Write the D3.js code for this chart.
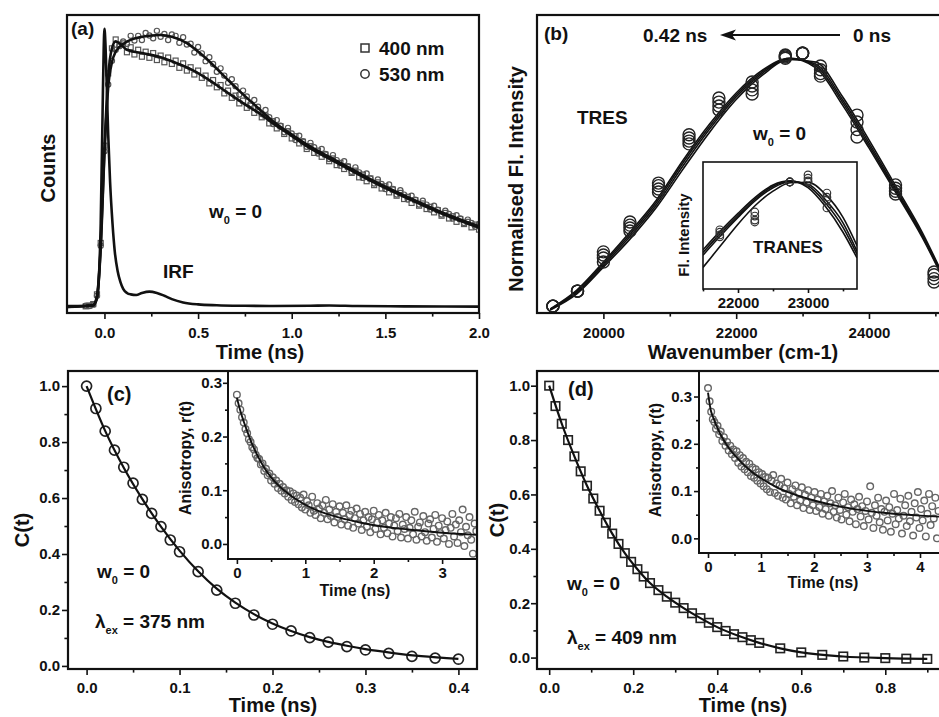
<!DOCTYPE html>
<html>
<head>
<meta charset="utf-8">
<script src="https://cdn.jsdelivr.net/npm/d3@7"></script>
<style>
body{margin:0;background:#fff}
svg text{font-family:"Liberation Sans",Arial,sans-serif;font-weight:bold;fill:#111;white-space:pre}
.axis line{stroke:#111;stroke-width:1.6}
</style>
</head>
<body>
<svg id="fig" width="939" height="717"></svg>
<script>
// ---- (a) decays, channel width 0.02 ns starting at -0.1 ns ----
var aStart = -0.1, aStep = 0.02
var a530 = [0.004,0.003,0.008,0.04,0.22,0.56,0.8,0.885,0.925,0.938,
 0.955,0.946,0.975,0.958,0.975,0.960,0.985,0.976,0.966,0.993,0.972,0.982,0.960,0.980,0.975,0.950,
 0.970,0.944,0.947,0.915,0.935,0.912,0.884,0.898,0.874,0.846,0.858,0.832,0.806,0.819,0.794,0.764,
 0.778,0.757,0.730,0.744,0.720,0.694,0.708,0.682,0.658,0.672,0.652,0.628,0.644,0.624,0.600,0.616,
 0.596,0.576,0.590,0.574,0.552,0.568,0.550,0.532,0.546,0.528,0.508,0.524,0.506,0.486,0.502,0.484,
 0.464,0.480,0.462,0.444,0.458,0.442,0.424,0.440,0.424,0.404,0.420,0.404,0.386,0.400,0.386,0.368,
 0.382,0.368,0.350,0.364,0.350,0.332,0.346,0.334,0.318,0.330,0.318,0.302,0.314,0.302,0.288,0.298]
var a400 = [0.002,0.005,0.01,0.045,0.23,0.58,0.84,0.93,0.962,0.944,
 0.948,0.916,0.934,0.908,0.925,0.900,0.918,0.896,0.913,0.888,0.904,0.880,0.897,0.874,0.886,0.860,
 0.876,0.850,0.862,0.836,0.850,0.824,0.832,0.804,0.816,0.790,0.798,0.768,0.778,0.752,0.760,0.732,
 0.742,0.716,0.724,0.698,0.708,0.682,0.688,0.660,0.668,0.642,0.650,0.622,0.632,0.606,0.614,0.588,
 0.594,0.568,0.578,0.554,0.562,0.540,0.548,0.524,0.534,0.510,0.518,0.496,0.504,0.482,0.490,0.466,
 0.476,0.452,0.462,0.438,0.448,0.426,0.434,0.412,0.422,0.400,0.410,0.388,0.396,0.374,0.384,0.364,
 0.372,0.352,0.360,0.340,0.348,0.328,0.338,0.318,0.326,0.306,0.316,0.298,0.306,0.286,0.296,0.278]
var fit530T = [-0.2,-0.06,-0.04,-0.02,0,0.02,0.04,0.06,0.08,0.12,0.2,0.3,0.36,0.44,0.51,0.58,0.65,0.72,0.8,0.9,1.0,1.08,1.26,1.43,1.62,1.8,2.0]
var fit530V = [0.0,0.005,0.035,0.21,0.55,0.79,0.88,0.918,0.935,0.954,0.972,0.978,0.972,0.949,0.913,0.87,0.823,0.777,0.728,0.668,0.62,0.585,0.518,0.456,0.395,0.341,0.29]
var fit400T = [-0.2,-0.06,-0.04,-0.02,0,0.02,0.04,0.06,0.08,0.12,0.2,0.3,0.38,0.47,0.56,0.65,0.74,0.83,0.9,1.0,1.08,1.26,1.43,1.62,1.8,2.0]
var fit400V = [0.0,0.006,0.04,0.22,0.57,0.83,0.93,0.955,0.948,0.925,0.913,0.898,0.878,0.852,0.816,0.774,0.733,0.695,0.66,0.615,0.578,0.512,0.451,0.39,0.336,0.285]
var irfT = [-0.2,-0.1,-0.06,-0.04,-0.03,-0.02,-0.01,-0.004,0,0.005,0.012,0.02,0.03,0.043,0.055,0.07,0.085,0.1,0.12,0.14,0.17,0.2,0.24,0.28,0.32,0.36,0.42,0.5,0.6,0.75,0.9,1.1,1.2,1.35,1.6,2.0]
var irfV = [0.003,0.004,0.008,0.03,0.1,0.3,0.7,0.93,1.0,0.95,0.8,0.62,0.45,0.3,0.2,0.13,0.09,0.065,0.05,0.045,0.043,0.05,0.055,0.05,0.04,0.028,0.016,0.009,0.006,0.004,0.003,0.004,0.005,0.003,0.002,0.001]
var aTicks = [0, 0.5, 1.0, 1.5, 2.0], aMinor = [0.25, 0.75, 1.25, 1.75]

// ---- (b) TRES, four time slices 0 / 0.14 / 0.28 / 0.42 ns ----
var tresWn = [19240,19610,20000,20400,20830,21290,21740,22240,22740,23000,23270,23820,24400,24980]
var tres0  = [0.027,0.086,0.200,0.322,0.475,0.664,0.797,0.860,1.000,1.020,0.970,0.777,0.503,0.161]
var tres14 = [0.027,0.086,0.216,0.334,0.487,0.675,0.813,0.876,1.005,1.020,0.955,0.750,0.490,0.150]
var tres28 = [0.027,0.086,0.228,0.345,0.500,0.687,0.828,0.891,1.010,1.020,0.940,0.720,0.478,0.135]
var tres42 = [0.027,0.086,0.240,0.357,0.510,0.700,0.844,0.907,1.013,1.020,0.930,0.691,0.467,0.122]
var tresFitWn = [19200,19600,20000,20400,20800,21200,21600,22000,22400,22800,23200,23600,24000,24400,24800,25200]
var tresFit0  = [0.012,0.075,0.180,0.290,0.415,0.565,0.710,0.838,0.935,0.995,0.985,0.850,0.680,0.500,0.318,0.100]
var tresFit14 = [0.014,0.080,0.187,0.300,0.425,0.578,0.722,0.848,0.942,0.998,0.977,0.838,0.668,0.490,0.310,0.096]
var tresFit28 = [0.015,0.085,0.194,0.309,0.435,0.590,0.732,0.856,0.948,1.000,0.970,0.828,0.658,0.483,0.304,0.093]
var tresFit42 = [0.016,0.090,0.200,0.318,0.444,0.600,0.742,0.864,0.954,1.000,0.962,0.817,0.648,0.475,0.298,0.090]
var bTicks = [20000, 22000, 24000], bMinor = [21000, 23000, 25000]

// TRANES inset
var tranesWn = [21740,22240,22740,23000,23270]
var tranes0  = [0.793,0.848,0.996,1.022,0.955]
var tranes14 = [0.800,0.855,0.996,1.010,0.940]
var tranes28 = [0.810,0.870,0.996,1.000,0.930]
var tranes42 = [0.819,0.885,0.996,0.996,0.900]
var tranesFitWn = [21500,21750,22000,22250,22500,22750,23000,23250,23500,23700]
var tranesFit0  = [0.680,0.760,0.840,0.910,0.962,0.993,0.995,0.950,0.865,0.760]
var tranesFit14 = [0.725,0.797,0.865,0.928,0.975,0.997,0.988,0.930,0.845,0.740]
var tranesFit28 = [0.735,0.806,0.872,0.934,0.980,0.999,0.982,0.918,0.828,0.728]
var tranesFit42 = [0.745,0.815,0.880,0.940,0.985,1.000,0.975,0.905,0.810,0.715]

// ---- (c) C(t), 375 nm ----
var cT = [0,0.01,0.02,0.03,0.04,0.05,0.06,0.07,0.08,0.09,0.10,0.12,0.14,0.16,0.18,0.20,0.22,0.24,0.26,0.28,0.30,0.325,0.35,0.375,0.40]
var cV = [1.0,0.92,0.839,0.771,0.71,0.653,0.595,0.545,0.498,0.45,0.408,0.337,0.271,0.224,0.182,0.149,0.125,0.101,0.085,0.069,0.057,0.045,0.034,0.028,0.024]
var cFitT = [0,0.02,0.04,0.06,0.08,0.1,0.12,0.14,0.16,0.18,0.2,0.22,0.24,0.26,0.28,0.3,0.33,0.36,0.4]
var cFitV = [1.0,0.84,0.708,0.596,0.498,0.412,0.338,0.276,0.226,0.185,0.152,0.125,0.103,0.086,0.072,0.06,0.046,0.035,0.025]
// anisotropy inset (c), channel width 0.025 ns
var aniCStep = 0.025
var aniC = [0.278,0.262,0.250,0.236,0.226,0.214,0.206,0.195,0.190,0.180,0.176,0.166,0.160,0.158,0.148,0.150,0.136,0.140,0.128,0.131,
 0.118,0.124,0.112,0.118,0.104,0.112,0.099,0.106,0.094,0.100,0.088,0.098,0.082,0.094,0.078,0.090,0.074,0.086,0.068,0.092,
 0.064,0.080,0.072,0.058,0.088,0.062,0.054,0.076,0.066,0.048,0.072,0.058,0.082,0.046,0.064,0.052,0.074,0.040,0.060,0.050,
 0.070,0.036,0.058,0.046,0.072,0.034,0.054,0.062,0.030,0.048,0.066,0.038,0.056,0.026,0.044,0.060,0.032,0.050,0.022,0.046,
 0.062,0.028,0.040,0.054,0.018,0.044,0.030,0.058,0.020,0.038,0.050,0.014,0.034,0.048,0.024,0.056,0.012,0.036,0.028,0.050,
 0.010,0.030,0.044,0.018,0.060,0.008,0.032,0.040,0.014,0.052,0.022,0.006,0.038,0.046,0.012,0.028,0.054,0.004,0.034,0.020,
 0.048,0.010,0.026,0.042,0.000,0.030,0.056,0.014,0.036,0.002,0.044,0.022,0.064,-0.004,0.032,0.016,0.050,0.008,-0.018,0.038,0.024]
var aniCFitT = [0,0.05,0.1,0.15,0.2,0.3,0.4,0.5,0.6,0.8,1.0,1.2,1.5,1.8,2.1,2.5,3.0,3.5]
var aniCFitV = [0.272,0.248,0.228,0.210,0.193,0.165,0.142,0.124,0.110,0.089,0.073,0.061,0.049,0.040,0.033,0.027,0.021,0.017]

// ---- (d) C(t), 409 nm ----
var dT = [0,0.015,0.03,0.045,0.06,0.075,0.09,0.105,0.12,0.135,0.15,0.165,0.18,0.195,0.21,0.225,0.24,0.26,0.28,0.30,0.32,0.34,0.36,0.38,0.40,0.42,0.44,0.46,0.48,0.50,0.55,0.60,0.65,0.70,0.75,0.80,0.85,0.90]
var dV = [1.0,0.925,0.86,0.8,0.74,0.685,0.632,0.585,0.54,0.496,0.456,0.418,0.384,0.352,0.325,0.298,0.274,0.248,0.224,0.202,0.182,0.163,0.145,0.128,0.112,0.098,0.086,0.075,0.064,0.054,0.034,0.019,0.01,0.004,0.0,-0.002,-0.004,-0.005]
var dFitT = [0,0.03,0.06,0.09,0.12,0.15,0.18,0.21,0.24,0.28,0.32,0.36,0.4,0.45,0.5,0.55,0.6,0.7,0.8,0.9]
var dFitV = [1.0,0.86,0.74,0.632,0.54,0.456,0.384,0.325,0.274,0.224,0.182,0.145,0.112,0.08,0.054,0.034,0.019,0.004,-0.002,-0.005]
// anisotropy inset (d), channel width 0.03 ns
var aniDStep = 0.03
var aniD = [0.318,0.290,0.268,0.252,0.246,0.232,0.238,0.220,0.226,0.206,0.214,0.196,0.204,0.186,0.196,0.178,0.188,0.170,0.184,0.160,
 0.176,0.152,0.170,0.146,0.162,0.140,0.158,0.132,0.150,0.128,0.146,0.122,0.140,0.116,0.136,0.110,0.130,0.104,0.128,0.098,
 0.122,0.134,0.096,0.116,0.090,0.112,0.126,0.086,0.106,0.082,0.118,0.094,0.074,0.104,0.088,0.112,0.070,0.096,0.080,0.108,
 0.064,0.092,0.076,0.102,0.060,0.086,0.070,0.098,0.058,0.082,0.066,0.094,0.052,0.078,0.062,0.090,0.048,0.074,0.100,0.056,
 0.070,0.044,0.086,0.060,0.040,0.076,0.094,0.050,0.066,0.036,0.082,0.056,0.072,0.030,0.062,0.088,0.046,0.068,0.026,0.058,
 0.078,0.040,0.110,0.054,0.022,0.070,0.048,0.086,0.034,0.062,0.018,0.056,0.080,0.038,0.066,0.014,0.052,0.094,0.030,0.060,
 0.042,0.084,0.010,0.048,0.070,0.026,0.090,0.036,0.056,0.006,0.074,0.044,0.098,0.022,0.062,0.038,0.080,0.004,0.052,0.094,
 0.028,0.068,0.042,0.086,0.000,0.058]
var aniDFitT = [0,0.05,0.1,0.2,0.3,0.4,0.6,0.8,1.0,1.3,1.6,2.0,2.5,3.0,3.5,4.0,4.5]
var aniDFitV = [0.308,0.272,0.255,0.228,0.207,0.190,0.164,0.143,0.127,0.108,0.094,0.080,0.067,0.058,0.052,0.048,0.045]

var svg = d3.select("#fig")
var fmt1 = d3.format(".1f"), fmtInt = d3.format("d")

function clip(id, x0, y0, x1, y1) {
  svg.append("clipPath").attr("id", id).append("rect")
    .attr("x", x0).attr("y", y0).attr("width", x1 - x0).attr("height", y1 - y0)
}

function frame(x0, y0, x1, y1, w, fill) {
  svg.append("rect").attr("x", x0).attr("y", y0).attr("width", x1 - x0).attr("height", y1 - y0)
    .attr("fill", fill || "none").attr("stroke", "#111").attr("stroke-width", w)
}

// major + minor ticks, no domain line (the frame draws it)
function axisX(scale, y, major, minor, fmt, len, pad, size) {
  var g = svg.append("g").attr("class", "axis").attr("transform", "translate(0," + y + ")")
  g.append("g").call(d3.axisBottom(scale).tickValues(minor).tickSize(len * 0.6).tickFormat(""))
  g.append("g").call(d3.axisBottom(scale).tickValues(major).tickSize(len).tickPadding(pad).tickFormat(fmt))
  g.selectAll(".domain").remove()
  g.selectAll("text").style("font-size", size + "px")
}
function axisY(scale, x, major, minor, fmt, len, pad, size) {
  var g = svg.append("g").attr("class", "axis").attr("transform", "translate(" + x + ",0)")
  g.append("g").call(d3.axisLeft(scale).tickValues(minor).tickSize(len * 0.6).tickFormat(""))
  g.append("g").call(d3.axisLeft(scale).tickValues(major).tickSize(len).tickPadding(pad).tickFormat(fmt))
  g.selectAll(".domain").remove()
  g.selectAll("text").style("font-size", size + "px")
}

function label(x, y, txt, size, anchor) {
  return svg.append("text").attr("x", x).attr("y", y).attr("text-anchor", anchor || "start")
    .style("font-size", size + "px").text(txt)
}
function vlabel(x, y, txt, size) {
  return svg.append("text").attr("transform", "translate(" + x + "," + y + ") rotate(-90)")
    .attr("text-anchor", "middle").style("font-size", size + "px").text(txt)
}
function subLabel(x, y, main, sub, rest, size) {
  var t = svg.append("text").attr("x", x).attr("y", y).style("font-size", size + "px")
  t.append("tspan").text(main)
  t.append("tspan").attr("dy", 6).style("font-size", "11px").text(sub)
  t.append("tspan").attr("dy", -6).text(rest)
}

function fitLine(g, xs, ys, T, V, w) {
  var line = d3.line().x(function(d) { return xs(d[0]) }).y(function(d) { return ys(d[1]) })
    .curve(d3.curveMonotoneX)
  g.append("path").datum(d3.zip(T, V)).attr("d", line)
    .attr("fill", "none").attr("stroke", "#111").attr("stroke-width", w)
}
function circles(g, xs, ys, pts, r, col, w) {
  g.append("g").selectAll("circle").data(pts).join("circle")
    .attr("cx", function(d) { return xs(d[0]) }).attr("cy", function(d) { return ys(d[1]) })
    .attr("r", r).attr("fill", "none").attr("stroke", col).attr("stroke-width", w)
}
function squares(g, xs, ys, pts, s, col, w) {
  g.append("g").selectAll("rect").data(pts).join("rect")
    .attr("x", function(d) { return xs(d[0]) - s / 2 }).attr("y", function(d) { return ys(d[1]) - s / 2 })
    .attr("width", s).attr("height", s).attr("fill", "none").attr("stroke", col).attr("stroke-width", w)
}
function channels(start, step, vals) {
  return vals.map(function(v, i) { return [start + i * step, v] })
}

// ================= panel (a) =================
var xA = d3.scaleLinear().domain([-0.2, 2.0]).range([67, 479])
var yA = d3.scaleLinear().domain([-0.022, 1.05]).range([313, 15])
clip("clipA", 67, 15, 479, 313)
var gA = svg.append("g").attr("clip-path", "url(#clipA)")
squares(gA, xA, yA, channels(aStart, aStep, a400), 5, "#555", 1.2)
circles(gA, xA, yA, channels(aStart, aStep, a530), 2.6, "#555", 1.2)
fitLine(gA, xA, yA, irfT, irfV, 2.6)
fitLine(gA, xA, yA, fit400T, fit400V, 2.6)
fitLine(gA, xA, yA, fit530T, fit530V, 2.6)
axisX(xA, 313, aTicks, aMinor, fmt1, 6, 8, 15)
frame(67, 15, 479, 313, 2.2)
// legend
svg.append("rect").attr("x", 361).attr("y", 44).attr("width", 8).attr("height", 8)
  .attr("fill", "none").attr("stroke", "#333").attr("stroke-width", 1.5)
svg.append("circle").attr("cx", 365).attr("cy", 74).attr("r", 4.2)
  .attr("fill", "none").attr("stroke", "#333").attr("stroke-width", 1.5)
label(379, 55, "400 nm", 19)
label(379, 81, "530 nm", 19)
label(71, 35, "(a)", 19)
subLabel(209, 218, "w", "0", " = 0", 19)
label(163, 278, "IRF", 19)
vlabel(55, 168, "Counts", 20)
label(260, 359, "Time (ns)", 20, "middle")

// ================= panel (b) =================
var xB = d3.scaleLinear().domain([19000, 25100]).range([537, 942])
var yB = d3.scaleLinear().domain([0, 1.17]).range([313, 15])
clip("clipB", 537, 15, 942, 313)
var gB = svg.append("g").attr("clip-path", "url(#clipB)")
;[tresFit0, tresFit14, tresFit28, tresFit42].forEach(function(f) {
  fitLine(gB, xB, yB, tresFitWn, f, 1.6)
})
;[tres0, tres14, tres28, tres42].forEach(function(s) {
  circles(gB, xB, yB, d3.zip(tresWn, s), 6, "#222", 1.4)
})
axisX(xB, 313, bTicks, bMinor, fmtInt, 6, 8, 15)
frame(537, 15, 942, 313, 2.2)
label(544, 40, "(b)", 19)
label(643, 42, "0.42 ns", 19)
label(853, 42, "0 ns", 19)
svg.append("line").attr("x1", 730).attr("y1", 35).attr("x2", 840).attr("y2", 35)
  .attr("stroke", "#111").attr("stroke-width", 2.2)
svg.append("path").attr("d", "M720,35 L736,29.5 L732,35 L736,40.5 Z").attr("fill", "#111")
label(577, 124, "TRES", 19)
subLabel(753, 140, "w", "0", " = 0", 19)
vlabel(523, 179, "Normalised Fl. Intensity", 20)
label(743, 359, "Wavenumber (cm-1)", 20, "middle")

// TRANES inset
var xBi = d3.scaleLinear().domain([21500, 23700]).range([703, 857])
var yBi = d3.scaleLinear().domain([0.6, 1.07]).range([289, 162])
frame(703, 162, 857, 289, 0, "#fff")
clip("clipBi", 703, 162, 857, 289)
var gBi = svg.append("g").attr("clip-path", "url(#clipBi)")
;[tranesFit0, tranesFit14, tranesFit28, tranesFit42].forEach(function(f) {
  fitLine(gBi, xBi, yBi, tranesFitWn, f, 1.6)
})
;[tranes0, tranes14, tranes28, tranes42].forEach(function(s) {
  circles(gBi, xBi, yBi, d3.zip(tranesWn, s), 3.8, "#333", 1.2)
})
axisX(xBi, 289, [22000, 23000], [21500, 22500, 23500], fmtInt, 4, 4, 15)
frame(703, 162, 857, 289, 1.6)
label(753, 253, "TRANES", 17)
vlabel(689, 235, "Fl. Intensity", 15)

// ================= panel (c) =================
var xC = d3.scaleLinear().domain([-0.02, 0.42]).range([68, 477])
var yC = d3.scaleLinear().domain([-0.011, 1.054]).range([669, 371])
clip("clipC", 68, 371, 477, 669)
var gC = svg.append("g").attr("clip-path", "url(#clipC)")
circles(gC, xC, yC, d3.zip(cT, cV), 5, "#222", 1.7)
fitLine(gC, xC, yC, cFitT, cFitV, 2.2)
axisX(xC, 669, [0, 0.1, 0.2, 0.3, 0.4], [0.05, 0.15, 0.25, 0.35], fmt1, 6, 7, 15)
axisY(yC, 68, [0, 0.2, 0.4, 0.6, 0.8, 1.0], [0.1, 0.3, 0.5, 0.7, 0.9], fmt1, 6, 2, 15)
label(107, 401, "(c)", 20)
subLabel(97, 578, "w", "0", " = 0", 19)
subLabel(95, 628, "λ", "ex", " = 375 nm", 19)
vlabel(29, 530, "C(t)", 20)
label(273, 712, "Time (ns)", 20, "middle")

// anisotropy inset (c)
var xCi = d3.scaleLinear().domain([-0.13, 3.51]).range([228, 477])
var yCi = d3.scaleLinear().domain([-0.028, 0.322]).range([559, 371])
frame(228, 371, 477, 559, 0, "#fff")
clip("clipCi", 228, 371, 477, 559)
var gCi = svg.append("g").attr("clip-path", "url(#clipCi)")
circles(gCi, xCi, yCi, channels(0, aniCStep, aniC), 3.3, "#666", 1.4)
fitLine(gCi, xCi, yCi, aniCFitT, aniCFitV, 1.9)
axisX(xCi, 559, [0, 1, 2, 3], [0.5, 1.5, 2.5], fmtInt, 5, 3, 15)
axisY(yCi, 228, [0, 0.1, 0.2, 0.3], [0.05, 0.15, 0.25], fmt1, 5, 1, 15)
frame(228, 371, 477, 559, 2)
label(355, 596, "Time (ns)", 16, "middle")
vlabel(191, 458, "Anisotropy, r(t)", 16)
frame(68, 371, 477, 669, 2.2)

// ================= panel (d) =================
var xD = d3.scaleLinear().domain([-0.029, 0.935]).range([537, 942])
var yD = d3.scaleLinear().domain([-0.042, 1.054]).range([669, 371])
clip("clipD", 537, 371, 942, 669)
var gD = svg.append("g").attr("clip-path", "url(#clipD)")
squares(gD, xD, yD, d3.zip(dT, dV), 8.5, "#222", 1.6)
fitLine(gD, xD, yD, dFitT, dFitV, 2.2)
axisX(xD, 669, [0, 0.2, 0.4, 0.6, 0.8], [0.1, 0.3, 0.5, 0.7, 0.9], fmt1, 6, 7, 15)
axisY(yD, 537, [0, 0.2, 0.4, 0.6, 0.8, 1.0], [0.1, 0.3, 0.5, 0.7, 0.9], fmt1, 6, 1, 15)
label(568, 396, "(d)", 20)
subLabel(567, 590, "w", "0", " = 0", 19)
subLabel(567, 644, "λ", "ex", " = 409 nm", 19)
vlabel(504, 520, "C(t)", 20)
label(743, 712, "Time (ns)", 20, "middle")

// anisotropy inset (d)
var xDi = d3.scaleLinear().domain([-0.17, 4.415]).range([699, 942])
var yDi = d3.scaleLinear().domain([-0.031, 0.354]).range([553, 371])
frame(699, 371, 942, 553, 0, "#fff")
clip("clipDi", 699, 371, 942, 553)
var gDi = svg.append("g").attr("clip-path", "url(#clipDi)")
circles(gDi, xDi, yDi, channels(0, aniDStep, aniD), 3.3, "#666", 1.4)
fitLine(gDi, xDi, yDi, aniDFitT, aniDFitV, 1.9)
axisX(xDi, 553, [0, 1, 2, 3, 4], [0.5, 1.5, 2.5, 3.5], fmtInt, 5, 3, 15)
axisY(yDi, 699, [0, 0.1, 0.2, 0.3], [0.05, 0.15, 0.25], fmt1, 5, 2, 15)
frame(699, 371, 942, 553, 2)
label(823, 588, "Time (ns)", 16, "middle")
vlabel(661, 460, "Anisotropy, r(t)", 16)
frame(537, 371, 942, 669, 2.2)
</script>
</body>
</html>
